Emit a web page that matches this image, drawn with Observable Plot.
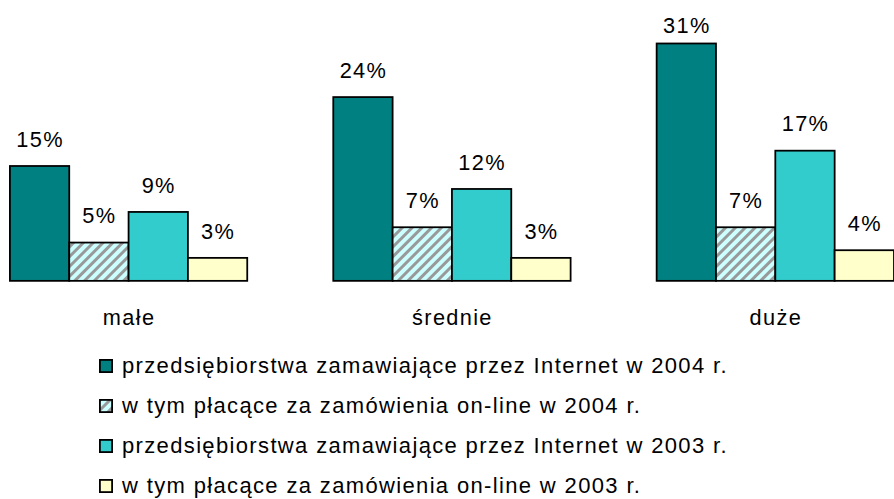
<!DOCTYPE html>
<html>
<head>
<meta charset="utf-8">
<script src="https://cdn.jsdelivr.net/npm/d3@7"></script>
<script src="https://cdn.jsdelivr.net/npm/@observablehq/plot@0.6"></script>
<style>
  html, body { margin: 0; padding: 0; background: #fff; overflow: hidden; }
  body { width: 894px; height: 499px; font-family: Arial, "Liberation Sans", sans-serif; }
  #chart svg { display: block; }
  #legend { position: relative; height: 154px; }
  .item { position: absolute; left: 99px; height: 26px; display: flex; align-items: center; gap: 9px;
          font-size: 22px; line-height: 26px; letter-spacing: 1.35px; color: #000; white-space: nowrap; }
  .item svg { display: block; }
</style>
</head>
<body>
<svg width="0" height="0" style="position:absolute">
  <defs>
    <pattern id="hatch" patternUnits="userSpaceOnUse" width="7" height="7" patternTransform="rotate(45)">
      <rect x="0" y="0" width="7" height="7" fill="#CCFFFF"></rect>
      <rect x="0" y="0" width="3" height="7" fill="#999999"></rect>
    </pattern>
  </defs>
</svg>
<div id="chart"></div>
<div id="legend"></div>
<script>
const categories = ["małe", "średnie", "duże"];
const series = [
  "przedsiębiorstwa zamawiające przez Internet w 2004 r.",
  "w tym płacące za zamówienia on-line w 2004 r.",
  "przedsiębiorstwa zamawiające przez Internet w 2003 r.",
  "w tym płacące za zamówienia on-line w 2003 r."
];
const orders2004 = [15, 24, 31];
const paying2004 = [5, 7, 7];
const orders2003 = [9, 12, 17];
const paying2003 = [3, 3, 4];
const colors = ["#008080", "url(#hatch)", "#33CCCC", "#FFFFCC"];
const labelCeiling = 29.8; // labels can't rise above the plot area (as in the original)

const seriesValues = [orders2004, paying2004, orders2003, paying2003];
const rows = [];
categories.forEach((c, i) => {
  series.forEach((s, j) => rows.push({category: c, series: s, value: seriesValues[j][i]}));
});

const chart = Plot.plot({
  width: 904,
  height: 345,
  marginLeft: 9,
  marginRight: 0,
  marginTop: 13,
  marginBottom: 61,
  fx: {domain: categories, paddingInner: 0.2672, paddingOuter: 0, axis: null, label: null},
  x: {domain: series, padding: 0, axis: null},
  y: {domain: [0, 35], axis: null},
  color: {domain: series, range: colors, type: "ordinal"},
  style: {fontFamily: "Arial, 'Liberation Sans', sans-serif", fontSize: "22px", letterSpacing: "1.35px", background: "white", color: "black"},
  marks: [
    Plot.barY(rows, {fx: "category", x: "series", y: "value", fill: "series", stroke: "black", strokeWidth: 1.8}),
    Plot.text(rows, {fx: "category", x: "series", y: d => Math.min(d.value, labelCeiling), text: d => d.value + "%",
                     lineAnchor: "bottom", dy: -20, fill: "black", fontSize: 22}),
    Plot.text(categories, {fx: d => d, text: d => d, frameAnchor: "bottom", lineAnchor: "bottom", dy: 44, fill: "black", fontSize: 22})
  ]
});
document.getElementById("chart").appendChild(chart);

const legend = document.getElementById("legend");
series.forEach((s, i) => {
  const item = document.createElement("div");
  item.className = "item";
  item.style.top = (12 + 40 * i) + "px";
  item.innerHTML = `<svg width="14" height="14"><rect x="0.9" y="0.9" width="12.2" height="12.2" fill="${colors[i]}" stroke="black" stroke-width="1.8"></rect></svg><span></span>`;
  item.querySelector("span").textContent = s;
  legend.appendChild(item);
});
</script>
</body>
</html>
